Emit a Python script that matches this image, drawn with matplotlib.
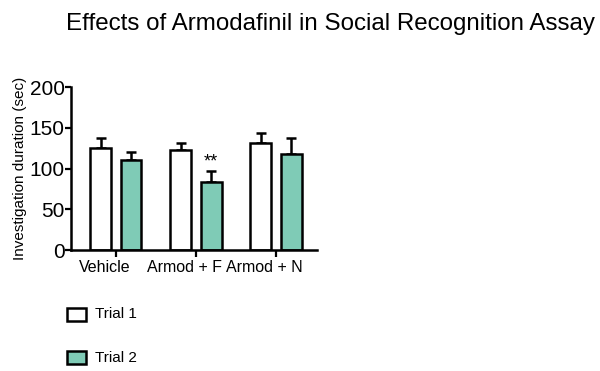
import numpy as np
import matplotlib.pyplot as plt
from matplotlib.patches import Rectangle

plt.rcParams['font.family'] = ['Liberation Sans', 'DejaVu Sans']

groups = ['Vehicle', 'Armod + F', 'Armod + N']
trial1 = [125, 123, 131]
trial1_err = [12, 8, 13]
trial2 = [111, 83, 118]
trial2_err = [9, 14, 20]
series_names = ['Trial 1', 'Trial 2']
yticks = [0, 50, 100, 150, 200]

teal = '#7fcbb6'

fig = plt.figure(figsize=(6, 3.71), dpi=100)
ax = fig.add_axes([0.118, 0.326, 0.41, 0.439])

x = np.arange(len(groups))
w = 0.26
off = 0.19
for vals, errs, dx, fc in [(trial1, trial1_err, -off, 'white'), (trial2, trial2_err, off, teal)]:
    ax.errorbar(x + dx, vals, yerr=[np.zeros(len(vals)), errs], fmt='none',
                ecolor='black', elinewidth=1.8, capsize=3.5, capthick=1.8, zorder=1)
    ax.bar(x + dx, vals, width=w, color=fc, edgecolor='black', linewidth=1.8, zorder=2)

# significance marker over Armod + F, trial 2
ax.text(x[1] + off, trial2[1] + trial2_err[1] + 1, '**', ha='center', va='bottom', fontsize=13)

ax.set_xlim(-0.5625, 2.51)
ax.set_ylim(0, 200)
ax.set_yticks(yticks)
# tick marks at group centres, labels sit a bit to the left (as in the original)
ax.set_xticks(x)
ax.set_xticklabels([])
ax.set_xticks(x - 0.14, minor=True)
ax.set_xticklabels(groups, minor=True, fontsize=11.5)
ax.tick_params(axis='x', which='minor', length=0, pad=7)
ax.tick_params(axis='y', labelsize=15, width=1.6, length=4.5, pad=0)
ax.tick_params(axis='x', which='major', width=1.6, length=5, pad=2)
for s in ['top', 'right']:
    ax.spines[s].set_visible(False)
for s in ['left', 'bottom']:
    ax.spines[s].set_linewidth(1.8)
ax.set_ylabel('Investigation duration (sec)', fontsize=11, labelpad=2)

fig.text(0.11, 0.935, 'Effects of Armodafinil in Social Recognition Assay', fontsize=17.4,
         ha='left', va='center')

# legend drawn below the axes
for i, (name, fc) in enumerate(zip(series_names, ['white', teal])):
    ytop = 1 - (308 + i * 43) / 371
    fig.patches.append(Rectangle((67 / 600, ytop - 13 / 371), 19 / 600, 13 / 371,
                                 transform=fig.transFigure, facecolor=fc,
                                 edgecolor='black', linewidth=1.8))
    fig.text(95 / 600, ytop - 6.5 / 371, name, fontsize=11, ha='left', va='center')

fig.savefig('out.png', dpi=100)
